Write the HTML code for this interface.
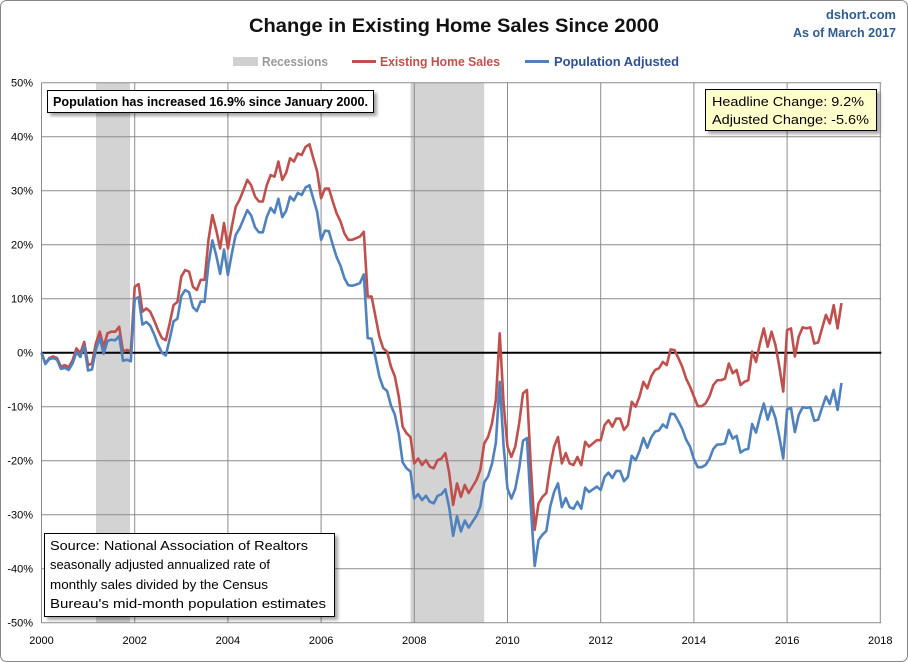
<!DOCTYPE html>
<html><head><meta charset="utf-8"><style>
html,body{margin:0;padding:0;background:#fff}
svg{display:block;font-family:"Liberation Sans",sans-serif}
</style></head><body>
<svg id="chart" width="908" height="662" viewBox="0 0 908 662">
<defs><filter id="sh" x="-5%" y="-5%" width="115%" height="130%"><feDropShadow dx="3" dy="3" stdDeviation="1.5" flood-color="#000" flood-opacity="0.35"/></filter></defs>
<rect x="0.5" y="0.5" width="907" height="661" rx="6" fill="#fff" stroke="#888"/>
<text x="454" y="32" text-anchor="middle" font-size="19" font-weight="bold" fill="#111" textLength="410" lengthAdjust="spacingAndGlyphs">Change in Existing Home Sales Since 2000</text>
<text x="896" y="19" text-anchor="end" font-size="13" font-weight="bold" fill="#2f5c8f" textLength="70" lengthAdjust="spacingAndGlyphs">dshort.com</text>
<text x="896" y="37" text-anchor="end" font-size="13" font-weight="bold" fill="#2f5c8f" textLength="103" lengthAdjust="spacingAndGlyphs">As of March 2017</text>
<g>
<rect x="233" y="57" width="25" height="9" fill="#d0d0d0"/>
<text x="262" y="66" font-size="13" font-weight="bold" fill="#999" textLength="66" lengthAdjust="spacingAndGlyphs">Recessions</text>
<line x1="352" y1="61.5" x2="376" y2="61.5" stroke="#c0504d" stroke-width="3"/>
<text x="380" y="66" font-size="13" font-weight="bold" fill="#c0504d" textLength="120" lengthAdjust="spacingAndGlyphs">Existing Home Sales</text>
<line x1="525" y1="61.5" x2="549" y2="61.5" stroke="#4f81bd" stroke-width="3"/>
<text x="554" y="66" font-size="13" font-weight="bold" fill="#2f4f8f" textLength="125" lengthAdjust="spacingAndGlyphs">Population Adjusted</text>
</g>
<g id="recess"></g>
<g id="grid"></g>
<g id="axes"></g>
<g id="series"></g>
<g filter="url(#sh)">
<rect x="47.5" y="90.5" width="326" height="22" fill="#fff" stroke="#000"/>
</g>
<text x="53" y="106" font-size="13" font-weight="bold" fill="#000" textLength="315" lengthAdjust="spacingAndGlyphs">Population has increased 16.9% since January 2000.</text>
<g filter="url(#sh)">
<rect x="705.5" y="89.5" width="171" height="41" fill="#ffffcc" stroke="#000"/>
</g>
<text x="712" y="106" font-size="13" fill="#000" textLength="152" lengthAdjust="spacingAndGlyphs">Headline Change: 9.2%</text>
<text x="712" y="124" font-size="13" fill="#000" textLength="157" lengthAdjust="spacingAndGlyphs">Adjusted Change: -5.6%</text>
<g filter="url(#sh)">
<rect x="44.5" y="533.5" width="290" height="83" fill="#fff" stroke="#000"/>
</g>
<g font-size="13" fill="#000">
<text x="50" y="550" textLength="258" lengthAdjust="spacingAndGlyphs">Source: National Association of Realtors</text>
<text x="50" y="569" textLength="220" lengthAdjust="spacingAndGlyphs">seasonally adjusted annualized rate of</text>
<text x="50" y="589" textLength="218" lengthAdjust="spacingAndGlyphs">monthly  sales divided by the Census</text>
<text x="50" y="608" textLength="276" lengthAdjust="spacingAndGlyphs">Bureau's mid-month  population estimates</text>
</g>
</svg>
<script>
const years=[2000,2002,2004,2006,2008,2010,2012,2014,2016,2018];
const yTicks=[50,40,30,20,10,0,-10,-20,-30,-40,-50];
const recessions=[[2001.17,2001.9],[2007.92,2009.5]];
const startYear=2000;
const existingSales=[
0,-2,-1,-0.7,-1,-2.6,-2.3,-2.7,-1.4,0.8,-0.1,2,
-2.3,-2,1.7,3.9,1.1,3.6,3.9,3.9,4.8,0.2,0.5,0.2,
12.2,12.7,7.6,8.2,7.6,6,4.2,2.7,2.3,5.4,8.8,9.4,
14.1,15.3,15,12.2,11.6,13.5,13.5,20.9,25.5,22.7,19.3,24,
19.3,23.3,27,28.3,30.1,32,31,28.9,28,28,31,32.9,
32.6,35.4,32,33.3,36,35.4,36.9,36.6,38.1,38.6,36,33.5,
28.6,30.4,30.4,28,25.8,24.3,22.1,20.9,20.9,21.2,21.5,22.4,
10.4,10.4,6.7,3,0.8,0.2,-2.6,-4.4,-8.1,-13.7,-14.9,-15.6,
-20.5,-19.6,-20.8,-19.9,-21.1,-21.4,-19.9,-19.6,-18.6,-22.3,-28.2,-24.2,
-26.7,-24.5,-26,-24.8,-23.6,-21.7,-16.8,-15.6,-13.1,-8.8,3.6,-9.4,
-17.4,-19.3,-17.4,-13.1,-7.5,-6.9,-21,-32.8,-27.9,-26.7,-26,-21,
-17.4,-15.6,-20.5,-18.6,-20.5,-20.8,-19.3,-20.8,-16.5,-17.4,-16.8,-16.2,
-16.2,-13.4,-12.5,-13.7,-12.2,-12.2,-14.3,-13.4,-9.1,-10,-8.1,-5.4,
-6.6,-4.4,-3.2,-2.9,-1.7,-2.3,0.6,0.5,-1,-2.6,-4.8,-6.3,
-8.1,-9.9,-9.9,-9.4,-8.1,-6,-5.1,-5.1,-4.8,-2,-3.8,-3.2,
-6,-5.4,-5.1,0.2,-1.7,1.7,4.5,1.1,3.9,1.4,-2.6,-7.2,
4.2,4.5,-0.7,3,4.7,4.5,4.7,1.7,1.9,4.5,7,5.4,
8.8,4.5,9.2];
const populationAdjusted=[
0,-2.1,-1.2,-1,-1.3,-3,-2.8,-3.2,-2,0.1,-0.8,1.2,
-3.3,-3.1,0.6,2.7,-0.2,2.2,2.4,2.3,3.1,-1.5,-1.3,-1.6,
9.9,10.3,5.2,5.7,5,3.4,1.5,0,-0.5,2.5,5.8,6.3,
10.5,11.6,11.2,8.4,7.7,9.5,9.4,16.4,20.8,18,14.6,19.1,
14.4,18.3,21.8,23,24.7,26.4,25.4,23.2,22.3,22.3,25.1,26.8,
25.9,28.5,25.1,26.3,28.9,28.2,29.6,29.2,30.6,31,28.5,26,
20.9,22.6,22.5,20,17.7,16.1,13.8,12.5,12.4,12.6,12.9,14.5,
2.7,2.6,-0.9,-4.4,-6.5,-7.1,-9.8,-11.5,-15,-20.3,-21.4,-22,
-27,-26.2,-27.3,-26.5,-27.6,-27.9,-26.5,-26.2,-25.3,-28.7,-33.9,-30.3,
-33.1,-31.1,-32.4,-31.3,-30.2,-28.5,-24,-22.9,-20.6,-16.7,-5.4,-17.3,
-25.2,-27,-25.2,-21.4,-16.3,-15.8,-28.5,-39.5,-34.7,-33.7,-33,-28.5,
-25.8,-24.2,-28.6,-26.9,-28.6,-28.9,-27.6,-28.9,-25,-25.8,-25.3,-24.8,
-25.4,-23,-22.2,-23.2,-21.9,-21.9,-23.8,-23,-19.1,-19.9,-18.2,-15.8,
-17.6,-15.7,-14.6,-14.4,-13.3,-13.9,-11.3,-11.4,-12.7,-14.1,-16.1,-17.4,
-19.7,-21.2,-21.2,-20.8,-19.7,-17.8,-17,-17,-16.8,-14.3,-15.9,-15.4,
-18.5,-18,-17.8,-13.2,-14.8,-11.9,-9.4,-12.4,-10,-12.1,-15.6,-19.6,
-10.5,-10.2,-14.7,-11.5,-10.1,-10.2,-10.1,-12.6,-12.4,-10.2,-8.1,-9.5,
-6.9,-10.6,-5.6];

const NS='http://www.w3.org/2000/svg';
const X0=41.5,X1=880.3,Y0=622.7,Y1=82.7;
const xScale=t=>X0+(t-2000)/18*(X1-X0);
const yScale=v=>Y0-(v+50)/100*(Y0-Y1);
function mk(tag,attrs,parent){const e=document.createElementNS(NS,tag);for(const k in attrs)e.setAttribute(k,attrs[k]);parent.appendChild(e);return e;}
const gR=document.getElementById('recess'),gG=document.getElementById('grid'),gA=document.getElementById('axes'),gS=document.getElementById('series');
recessions.forEach(r=>{
 const e=mk('rect',{x:xScale(r[0]),y:Y1,width:xScale(r[1])-xScale(r[0]),height:Y0-Y1,fill:'#d3d3d3'},gR);
 
 
});
yTicks.forEach(v=>{
 const y=yScale(v);
 if(v!==0){const l=mk('line',{x1:X0,x2:X1+1,y1:y,y2:y,stroke:'#8c8c8c','stroke-width':1},gG);
 
 }
 const t=mk('text',{x:33,y:y+4,'text-anchor':'end','font-size':11,fill:'#000'},gA);
 t.textContent=v+'%';
 
 
});
years.forEach(yr=>{
 const x=xScale(yr);
 const l=mk('line',{x1:x,x2:x,y1:Y1,y2:Y0,stroke:'#8c8c8c','stroke-width':1},gG);
 
 
 const t=mk('text',{x:x,y:644,'text-anchor':'middle','font-size':11,fill:'#000'},gA);
 t.textContent=yr;
 
 
});
const z=mk('line',{x1:X0,x2:X1+1,y1:yScale(0),y2:yScale(0),stroke:'#000','stroke-width':2},gA);


function path(arr){return arr.map((v,i)=>(i?'L':'M')+xScale(startYear+i/12).toFixed(2)+','+yScale(v).toFixed(2)).join('');}
const pr=mk('path',{d:path(existingSales),fill:'none',stroke:'#c0504d','stroke-width':2.6,'stroke-linejoin':'round'},gS);


const pb=mk('path',{d:path(populationAdjusted),fill:'none',stroke:'#4f81bd','stroke-width':2.6,'stroke-linejoin':'round'},gS);


</script>
</body></html>
